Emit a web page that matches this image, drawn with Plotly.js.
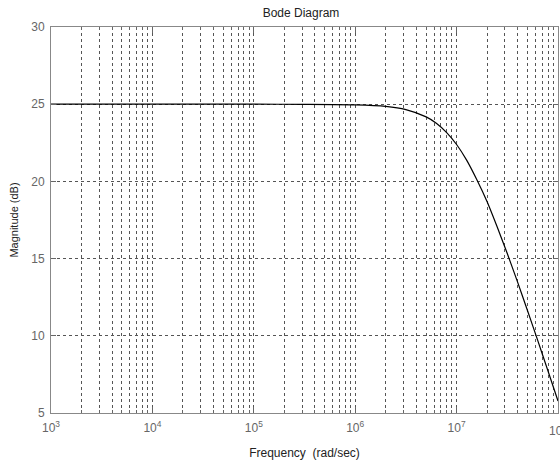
<!DOCTYPE html>
<html><head><meta charset="utf-8">
<script src="https://cdn.plot.ly/plotly-3.0.1.min.js"></script>
<style>html,body{margin:0;padding:0;background:#fff}#chart{width:560px;height:462px}</style>
</head><body><div id="chart"></div>
<script>
// Frequency (rad/sec) and magnitude (dB)
const freq = [1e3, 1e4, 1e5, 3.16e5, 1e6, 2e6, 3.16e6, 5.01e6, 6.31e6, 7.94e6, 1e7, 1.26e7, 1.58e7, 2e7, 2.51e7, 3.16e7, 3.98e7, 5.01e7, 6.31e7, 7.94e7, 1e8];
const magDb = [25.0, 25.0, 25.0, 24.99, 24.96, 24.86, 24.65, 24.18, 23.77, 23.18, 22.39, 21.36, 20.12, 18.68, 17.06, 15.33, 13.51, 11.62, 9.7, 7.75, 5.78];
const decades = [1e3, 1e4, 1e5, 1e6, 1e7, 1e8];
const decadeLabels = ['10<sup>3</sup>','10<sup>4</sup>','10<sup>5</sup>','10<sup>6</sup>','10<sup>7</sup>','10<sup>8</sup>'];
const minorMult = [2,3,4,5,6,7,8,9];
const yTicks = [5,10,15,20,25,30];

const minorVals = [];
for (let d = 0; d < decades.length - 1; d++) for (const m of minorMult) minorVals.push(decades[d]*m);

const gridCol = '#555';
const fontFam = 'Liberation Sans, Arial, sans-serif';
const gd = '3px,3px';
Plotly.newPlot('chart', [{
  x: freq, y: magDb, type: 'scatter', mode: 'lines',
  line: {color: '#000', width: 1.2, shape: 'spline', smoothing: 0.6}
}], {
  width: 560, height: 462,
  margin: {l: 51, r: 2, t: 27, b: 49},
  paper_bgcolor: '#fff', plot_bgcolor: '#fff',
  showlegend: false,
  font: {family: fontFam, size: 12, color: '#666'},
  title: {text: 'Bode Diagram', font: {size: 12, color: '#222', family: fontFam}, x: 0.5375, xanchor: 'center', y: 0.972, yanchor: 'middle'},
  xaxis: {
    type: 'log', range: [3, 8], tickmode: 'array', tickvals: decades.slice(0, 5), ticktext: decadeLabels.slice(0, 5),
    ticks: 'inside', ticklen: 6, tickcolor: '#666', mirror: 'allticks',
    showline: true, linecolor: '#888', linewidth: 1,
    showgrid: true, gridcolor: gridCol, griddash: gd, gridwidth: 1,
    zeroline: false, ticklabelstandoff: 4,
    tickfont: {size: 12, color: '#666'},
    minor: {tickvals: minorVals, ticks: 'inside', ticklen: 3, tickcolor: '#666', showgrid: true, gridcolor: gridCol, griddash: gd, gridwidth: 1},
    title: {text: 'Frequency  (rad/sec)', font: {size: 12, color: '#222'}, standoff: 14}
  },
  yaxis: {
    range: [5, 30], tickmode: 'array', tickvals: yTicks,
    ticks: 'inside', ticklen: 5, tickcolor: '#666', mirror: 'allticks',
    showline: true, linecolor: '#888', linewidth: 1,
    showgrid: true, gridcolor: gridCol, griddash: gd, gridwidth: 1,
    zeroline: false, ticklabelstandoff: 3,
    tickfont: {size: 12, color: '#666'},
    title: {text: 'Magnitude (dB)', font: {size: 11, color: '#222'}, standoff: 10}
  },
  annotations: [{
    x: 8, xref: 'x', y: 0, yref: 'paper', yshift: -17, text: decadeLabels[5],
    showarrow: false, xanchor: 'center', yanchor: 'middle', font: {size: 12, color: '#666'}
  }]
}, {staticPlot: true, displayModeBar: false});
</script>
</body></html>
